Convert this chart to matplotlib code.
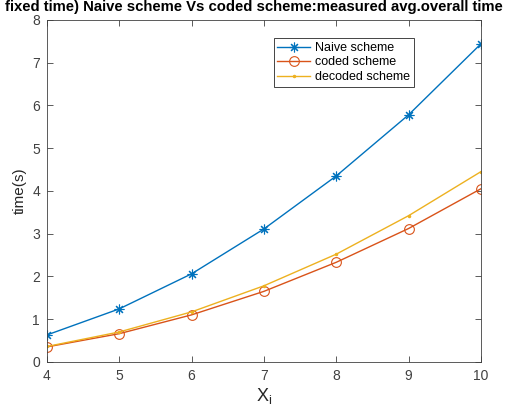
import matplotlib
matplotlib.use("Agg")
import matplotlib.pyplot as plt

# data
x_vals = [4, 5, 6, 7, 8, 9, 10]
naive = [0.63, 1.24, 2.06, 3.11, 4.35, 5.78, 7.44]
coded = [0.35, 0.66, 1.10, 1.65, 2.33, 3.12, 4.05]
decoded = [0.36, 0.70, 1.17, 1.78, 2.52, 3.42, 4.45]
x_ticks = [4, 5, 6, 7, 8, 9, 10]
y_ticks = [0, 1, 2, 3, 4, 5, 6, 7, 8]

plt.rcParams["font.family"] = ["Liberation Sans", "DejaVu Sans"]

fig = plt.figure(figsize=(5.16, 4.15), dpi=100)
ax = fig.add_axes([0.091, 0.128, 0.841, 0.824])

ax.plot(x_vals, naive, color="#0072BD", lw=1, marker=(8, 2, 0), ms=7, mew=0.8,
        label="Naive scheme")
ax.plot(x_vals, coded, color="#D95319", lw=1, marker="o", ms=7, mfc="none",
        mew=0.8, label="coded scheme")
ax.plot(x_vals, decoded, color="#EDB120", lw=1, marker=".", ms=3,
        label="decoded scheme")

ax.set_xlim(4, 10)
ax.set_ylim(0, 8)
ax.set_xticks(x_ticks)
ax.set_yticks(y_ticks)
ax.tick_params(direction="in", top=True, right=True, length=4, width=0.6,
               labelsize=10, colors="#404040", pad=5)
for sp in ax.spines.values():
    sp.set_color("#404040")
    sp.set_linewidth(0.6)

ax.set_xlabel("X$_\\mathregular{i}$", fontsize=13, color="#262626", labelpad=2)
ax.set_ylabel("time(s)", fontsize=11, color="#262626", labelpad=4)

fig.text(0.01, 0.999, "fixed time) Naive scheme Vs coded scheme:measured avg.overall time",
         ha="left", va="top", fontsize=10.7, fontweight="bold", color="black")

leg = ax.legend(loc="upper left", bbox_to_anchor=(0.508, 0.965), fontsize=9,
                fancybox=False, framealpha=1, edgecolor="#262626",
                handlelength=2.6, borderpad=0.3, labelspacing=0.2,
                handletextpad=0.4)
leg.get_frame().set_linewidth(0.6)

fig.savefig("out.png", dpi=100)
